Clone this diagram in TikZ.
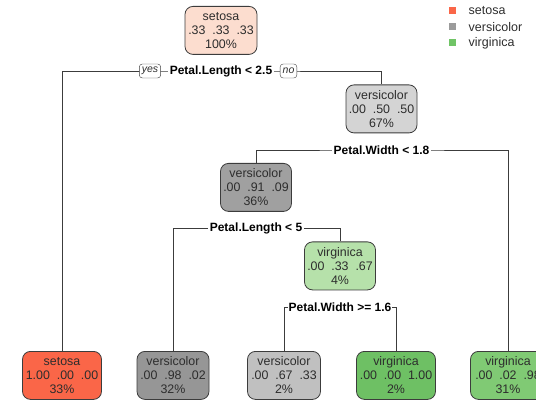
\documentclass[tikz,border=0pt]{standalone}
\usepackage{fontspec}
\setmainfont{Liberation Sans}
\definecolor{txt}{RGB}{45,45,45}
\definecolor{edge}{RGB}{60,60,60}
\definecolor{cRoot}{RGB}{252,221,207}
\definecolor{cVa}{RGB}{212,212,212}
\definecolor{cVb}{RGB}{160,160,160}
\definecolor{cGa}{RGB}{182,225,170}
\definecolor{cSet}{RGB}{250,102,72}
\definecolor{cL2}{RGB}{150,150,150}
\definecolor{cL3}{RGB}{192,192,192}
\definecolor{cL4}{RGB}{110,192,100}
\definecolor{cL5}{RGB}{128,202,116}
\definecolor{legS}{RGB}{250,102,72}
\definecolor{legV}{RGB}{155,155,155}
\definecolor{legG}{RGB}{112,196,102}
\tikzset{
  treebox/.style={draw=edge, line width=0.8pt, rounded corners=8pt, minimum height=48pt,
    align=center, text=txt, font=\fontsize{12.4}{14}\selectfont, inner sep=1pt, anchor=north},
  splitlab/.style={fill=white, inner sep=1.5pt, font=\bfseries\fontsize{12}{13}\selectfont, text=black},
  yn/.style={draw=edge, fill=white, rounded corners=3pt, inner xsep=2.5pt, inner ysep=1pt, minimum height=14pt,
    font=\itshape\fontsize{10.5}{11}\selectfont, text=txt},
  branch/.style={draw=edge, line width=0.7pt},
  legtext/.style={anchor=west, font=\fontsize{12.5}{14}\selectfont, text=txt, inner sep=0pt}
}
\begin{document}
\begin{tikzpicture}[x=1pt,y=-1pt]
\useasboundingbox (0,0) rectangle (536,401);
% nodes
\node[treebox, fill=cRoot, minimum width=72pt] (root) at (221,6) {setosa\\.33\ \ .33\ \ .33\\100\%};
\node[treebox, fill=cVa, minimum width=71pt] (n2) at (381.5,84.5) {versicolor\\.00\ \ .50\ \ .50\\67\%};
\node[treebox, fill=cVb, minimum width=71pt] (n3) at (256,163) {versicolor\\.00\ \ .91\ \ .09\\36\%};
\node[treebox, fill=cGa, minimum width=71pt] (n4) at (340,241.5) {virginica\\.00\ \ .33\ \ .67\\4\%};
\node[treebox, fill=cSet, minimum width=79pt] (l1) at (62,351) {setosa\\1.00\ \ .00\ \ .00\\33\%};
\node[treebox, fill=cL2, minimum width=72pt] (l2) at (173,351) {versicolor\\.00\ \ .98\ \ .02\\32\%};
\node[treebox, fill=cL3, minimum width=73pt] (l3) at (284,351) {versicolor\\.00\ \ .67\ \ .33\\2\%};
\node[treebox, fill=cL4, minimum width=79pt] (l4) at (396,351) {virginica\\.00\ \ .00\ \ 1.00\\2\%};
\node[treebox, fill=cL5, minimum width=75pt] (l5) at (508,351) {virginica\\.00\ \ .02\ \ .98\\31\%};
% split coordinates
\coordinate (s1) at (221,71);
\coordinate (s2) at (381.5,150);
\coordinate (s3) at (256,228.5);
\coordinate (s4) at (340,307.5);
% branches
\draw[branch] (l1.north) |- (s1) -| (n2.north);
\draw[branch] (l5.north) |- (s2) -| (n3.north);
\draw[branch] (l2.north) |- (s3) -| (n4.north);
\draw[branch] (l3.north) |- (s4) -| (l4.north);
% split labels
\node[splitlab] (t1) at (s1) {Petal.Length < 2.5};
\node[splitlab] (t2) at (s2) {Petal.Width < 1.8};
\node[splitlab] (t3) at (s3) {Petal.Length < 5};
\node[splitlab, inner xsep=0.5pt] (t4) at (s4) {Petal.Width >= 1.6};
\node[yn] (yes) at (150,71) {yes};
\node[yn] (no) at (288.5,71) {no};
% legend
\node[fill=legS, minimum size=7pt, inner sep=0pt] (k1) at (452.5,10.5) {};
\node[fill=legV, minimum size=7pt, inner sep=0pt] (k2) at (452.5,26.5) {};
\node[fill=legG, minimum size=7pt, inner sep=0pt] (k3) at (452.5,42.5) {};
\node[legtext] (g1) at (468.5,11) {setosa};
\node[legtext] (g2) at (468.5,27) {versicolor};
\node[legtext] (g3) at (468.5,43) {virginica};
\end{tikzpicture}
\end{document}
